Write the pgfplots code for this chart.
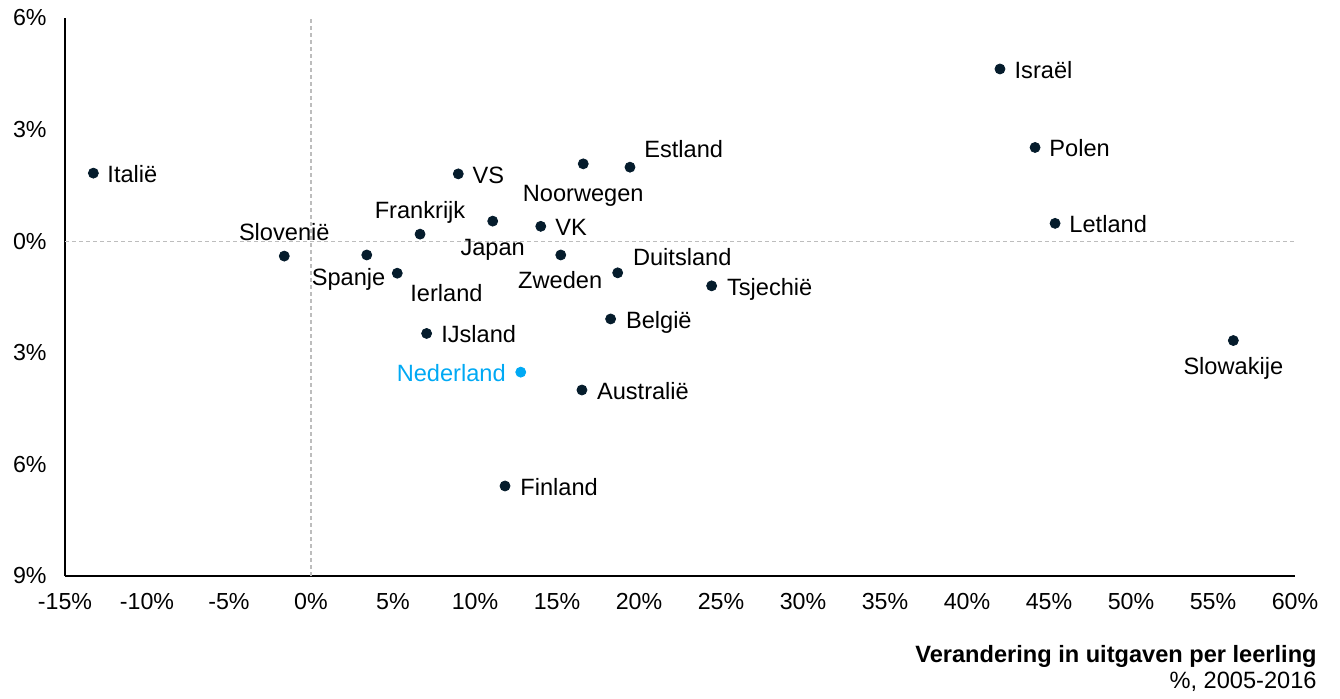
\documentclass[border=0pt]{standalone}
\usepackage{pgfplots}
\pgfplotsset{compat=1.18}
\usepackage{pgfplotstable}
\usepackage{fontspec}
\setmainfont{Liberation Sans}
\definecolor{navy}{HTML}{051C2C}
\definecolor{nlblue}{HTML}{00A9F4}
\definecolor{refgray}{HTML}{BDBDBD}
\newcommand{\lblfont}{\fontsize{11.8bp}{14bp}\selectfont}
\newcommand{\tickfont}{\fontsize{11.6bp}{14bp}\selectfont}

\pgfplotstableread[col sep=comma]{
x,y,label,anc,dx,dy
-13.27,1.83,Italië,base west,6.85,-4.7
-1.63,-0.40,Slovenië,base,0,7.65
3.40,-0.37,Spanje,base east,9.5,-15.3
5.26,-0.86,Ierland,base west,6.35,-14.2
6.65,0.19,Frankrijk,base,0,8
7.05,-2.48,IJsland,base west,7.15,-4.7
8.98,1.81,VS,base west,7,-4.65
11.08,0.54,Japan,base,0,-17.2
11.83,-6.58,Finland,base west,7.5,-4.7
14.01,0.40,VK,base west,7.15,-4.7
15.23,-0.37,Zweden,base,-0.3,-16.8
16.60,2.08,Noorwegen,base,0,-18.9
16.52,-4.00,Australië,base west,7.35,-4.7
18.27,-2.09,België,base west,7.5,-4.7
18.70,-0.85,Duitsland,base west,7.5,3.85
19.45,1.99,Estland,base west,7,5
24.43,-1.20,Tsjechië,base west,7.5,-4.7
42.01,4.63,Israël,base west,7.15,-4.7
44.15,2.52,Polen,base west,7,-4.7
45.37,0.48,Letland,base west,7,-4.7
56.24,-2.67,Slowakije,base,0,-17.2
}\landen

\pgfplotstableread[col sep=comma]{
x,y,label,anc,dx,dy
12.79,-3.52,Nederland,base east,-7.35,-4.7
}\nederland

% place the labels of one table, read from its own rows
\newcommand{\placelabels}[2]{%
  \pgfplotstablegetrowsof{#1}%
  \pgfmathtruncatemacro{\nlast}{\pgfplotsretval-1}%
  \pgfplotsforeachungrouped \i in {0,...,\nlast}{%
    \pgfplotstablegetelem{\i}{x}\of{#1}\let\lblx\pgfplotsretval
    \pgfplotstablegetelem{\i}{y}\of{#1}\let\lbly\pgfplotsretval
    \pgfplotstablegetelem{\i}{label}\of{#1}\let\lbltxt\pgfplotsretval
    \pgfplotstablegetelem{\i}{anc}\of{#1}\let\lblanc\pgfplotsretval
    \pgfplotstablegetelem{\i}{dx}\of{#1}\let\lbldx\pgfplotsretval
    \pgfplotstablegetelem{\i}{dy}\of{#1}\let\lbldy\pgfplotsretval
    \edef\lbltmp{\noexpand\node[anchor=\lblanc, xshift=\lbldx bp, yshift=\lbldy bp, inner sep=0pt, font=\noexpand\lblfont, text=#2] at (axis cs:\lblx,\lbly) {\lbltxt};}%
    \lbltmp
  }%
}

\begin{document}
\begin{tikzpicture}
\begin{axis}[
  scale only axis,
  width=615bp, height=279bp,
  xmin=-15, xmax=60, ymin=-9, ymax=6,
  axis lines=left,
  axis line style={-, black, line width=1bp},
  major tick length=0pt,
  xtick={-15,-10,-5,0,5,10,15,20,25,30,35,40,45,50,55,60},
  xticklabels={-15\%,-10\%,-5\%,0\%,5\%,10\%,15\%,20\%,25\%,30\%,35\%,40\%,45\%,50\%,55\%,60\%},
  ytick={-9,-6,-3,0,3,6},
  yticklabels={9\%,6\%,3\%,0\%,3\%,6\%},
  xticklabel style={font=\tickfont, inner sep=0pt, anchor=north, yshift=-8.5bp},
  yticklabel style={font=\tickfont, inner sep=0pt, anchor=east, xshift=-9bp},
  /pgf/number format/assume math mode=true,
  clip=false,
]
\coordinate (bl) at (rel axis cs:0,0);
\addplot[refgray, line width=0.6bp, dash pattern=on 2bp off 1.5bp, forget plot] coordinates {(0,-9) (0,6)};
\addplot[refgray, line width=0.6bp, dash pattern=on 2bp off 1.5bp, forget plot] coordinates {(-15,0) (60,0)};

\addplot[only marks, mark=*, mark size=2.5bp, color=navy] table[x=x, y=y] {\landen};
\addplot[only marks, mark=*, mark size=2.5bp, color=nlblue] table[x=x, y=y] {\nederland};

\placelabels{\landen}{black}
\placelabels{\nederland}{nlblue}

\node[anchor=base east, inner sep=0pt, font=\lblfont\bfseries] at ([xshift=11bp, yshift=-43.35bp]rel axis cs:1,0) {Verandering in uitgaven per leerling};
\node[anchor=base east, inner sep=0pt, font=\lblfont] at ([xshift=11bp, yshift=-56bp]rel axis cs:1,0) {\%, 2005-2016};
\end{axis}
\pgfresetboundingbox
\path[use as bounding box] (bl) ++(-32.5bp,-61.5bp) rectangle ++(670bp,349.5bp);
\end{tikzpicture}
\end{document}
